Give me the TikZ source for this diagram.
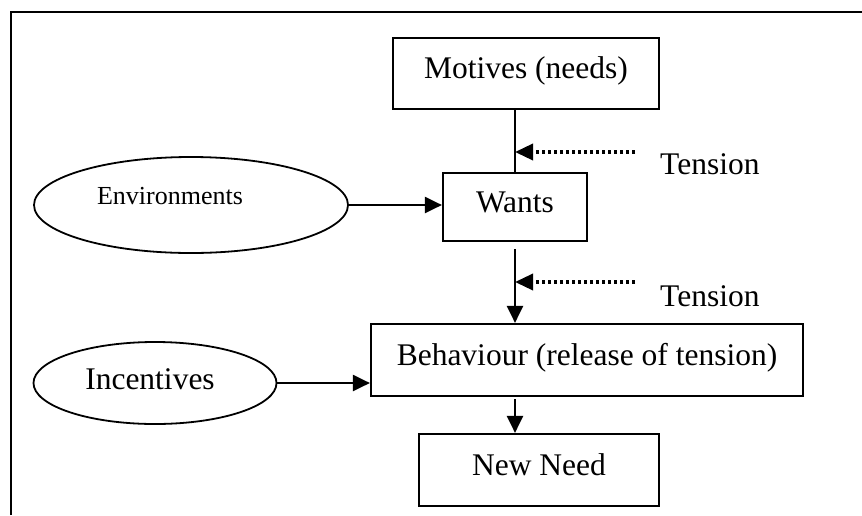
\documentclass[tikz,border=0pt]{standalone}
\usepackage{fontspec}
\setmainfont{Liberation Serif}
\usetikzlibrary{arrows.meta,shapes.geometric}
\begin{document}
\begin{tikzpicture}[x=1pt,y=-1pt,
  box/.style={draw,line width=2.2pt,inner sep=0pt,text height=21pt,text depth=11pt,
    font=\fontsize{31.5}{36}\selectfont},
  oval/.style={draw,ellipse,line width=1.8pt,inner sep=0pt},
  lbl/.style={anchor=base,inner sep=0pt,font=\fontsize{31.5}{36}\selectfont},
  flow/.style={line width=2.2pt,-{Triangle[length=17pt,width=16pt]}},
  pull/.style={line width=3.5pt,dash pattern=on 3.5pt off 2.5pt,-{Triangle[length=18pt,width=16pt]}},
]
\useasboundingbox (0,0) rectangle (862,515);
% open frame: top and left edges
\draw[line width=2.5pt] (11,515) -- (11,12) -- (870,12);

% boxes
\node[box,minimum width=266pt,minimum height=71pt] (motives) at (526,73.5) {Motives (needs)};
\node[box,minimum width=144pt,minimum height=68pt] (wants) at (515,207) {Wants};
\node[box,minimum width=432pt,minimum height=72pt] (behav) at (587,360) {Behaviour (release of tension)};
\node[box,minimum width=240pt,minimum height=72pt] (newneed) at (539,470) {New Need};

% ellipses with their captions
\node[oval,minimum width=314pt,minimum height=96pt] (env) at (191,205) {};
\node[anchor=base,inner sep=0pt,font=\fontsize{26}{30}\selectfont] (envtxt) at (170,204) {Environments};
\node[oval,minimum width=243pt,minimum height=82pt] (inc) at (155,383) {};
\node[lbl] (inctxt) at (150,389) {Incentives};

% tension labels
\node[lbl,anchor=base west] (ten1) at (660,174) {Tension};
\node[lbl,anchor=base west] (ten2) at (660,306) {Tension};

% main chain
\draw[line width=2.2pt] (motives.south -| wants.north) -- (wants.north);
\draw[flow] ([yshift=-7pt]wants.south) -- (wants.south |- behav.north);
\draw[flow] ([yshift=-2pt]behav.south -| wants.south) -- (newneed.north -| wants.south);

% inputs from the ellipses
\draw[flow] (env.east) -- (env.east -| wants.west);
\draw[flow] (inc.east) -- (inc.east -| behav.west);

% tension pulls
\coordinate (t1) at (635,152);
\coordinate (t2) at (635,282);
\draw[pull] (t1) -- (wants.north |- t1);
\draw[pull] (t2) -- (wants.south |- t2);
\end{tikzpicture}
\end{document}
